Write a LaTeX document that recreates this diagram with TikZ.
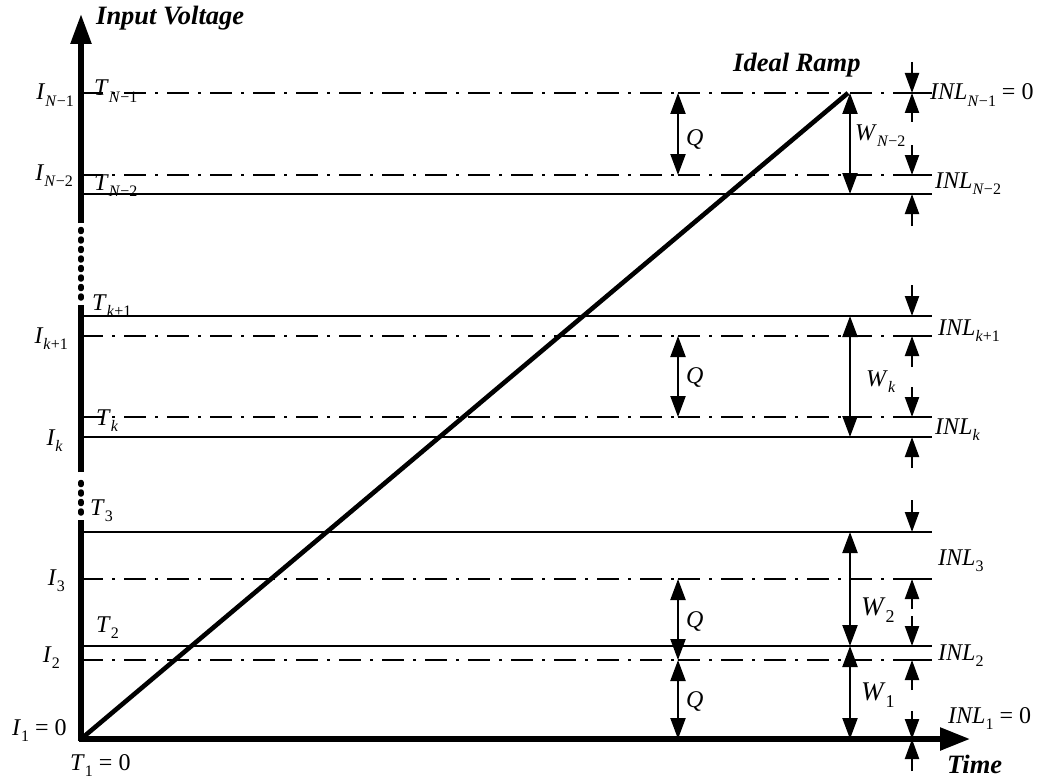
\documentclass[tikz,border=0pt]{standalone}
\usepackage{fontspec}
\setmainfont{Liberation Serif}
\usetikzlibrary{arrows.meta}
\newcommand\lbl[2]{\textit{#1}\raisebox{-6.5pt}{\fontsize{16}{16}\selectfont #2}}
\newcommand\lblb[2]{\textit{#1}\raisebox{-7pt}{\fontsize{18}{18}\selectfont #2}}
\begin{document}
\begin{tikzpicture}[x=1pt,y=-1pt,
  tline/.style={line width=2.6pt},
  iline/.style={line width=2.8pt, dash pattern=on 22pt off 9pt on 3pt off 9pt},
  ramp/.style={line width=4.6pt},
  axisline/.style={line width=5.5pt},
  axisdot/.style={line width=5.5pt, line cap=round, dash pattern=on 2pt off 7.5pt},
  dimarrow/.style={line width=2.2pt, {Triangle[length=21pt,width=15pt]}-{Triangle[length=21pt,width=15pt]}},
  inlarrow/.style={line width=2.2pt, -{Triangle[length=20pt,width=14pt]}},
  lab/.style={inner sep=0pt, font=\fontsize{24}{26}\selectfont},
  biglab/.style={inner sep=0pt, font=\fontsize{27}{29}\selectfont},
  blab/.style={inner sep=0pt, font=\fontsize{26.5}{28}\selectfont\bfseries\itshape}]
\useasboundingbox (0,0) rectangle (1054,781);

% solid T lines
\foreach \yy in {194,316,437,532,646}
  \draw[tline] (81,\yy) -- (932,\yy);
% dash-dot I lines
\foreach \yy in {93,175,336,417,579,660}{
  \draw[iline] (81,\yy) -- (678,\yy);
  \draw[iline] (678,\yy) -- (912,\yy);
  \draw[tline] (912,\yy) -- (932,\yy);
}

% ramp
\coordinate (O) at (81,739);
\coordinate (R) at (848,93);
\draw[ramp] (O) -- (R);

% axes
\draw[axisline] (81,741) -- (81,520);
\draw[axisdot] (81,513) -- (81,476);
\draw[axisline] (81,472) -- (81,305);
\draw[axisdot] (81,298) -- (81,228);
\draw[axisline,-{Triangle[length=30pt,width=20pt]}] (81,223) -- (81,14);
\draw[axisline,-{Triangle[length=30pt,width=22pt]}] (79,739) -- (970,739);

% Q arrows
\draw[dimarrow] (678,93) -- (678,175);
\draw[dimarrow] (678,336) -- (678,417);
\draw[dimarrow] (678,579) -- (678,660);
\draw[dimarrow] (678,660) -- (678,739);
% W arrows
\draw[dimarrow] (850,93) -- (850,194);
\draw[dimarrow] (850,316) -- (850,437);
\draw[dimarrow] (850,532) -- (850,646);
\draw[dimarrow] (850,646) -- (850,739);
% INL arrows
\draw[inlarrow] (912,62) -- (912,93);
\draw[inlarrow] (912,122) -- (912,93);
\draw[inlarrow] (912,145) -- (912,175);
\draw[inlarrow] (912,226) -- (912,194);
\draw[inlarrow] (912,285) -- (912,316);
\draw[inlarrow] (912,367) -- (912,336);
\draw[inlarrow] (912,387) -- (912,417);
\draw[inlarrow] (912,468) -- (912,437);
\draw[inlarrow] (912,500) -- (912,532);
\draw[inlarrow] (912,609) -- (912,579);
\draw[inlarrow] (912,616) -- (912,646);
\draw[inlarrow] (912,690) -- (912,660);
\draw[inlarrow] (912,711) -- (912,739);
\draw[inlarrow] (912,771) -- (912,739);

% bold labels
\node[blab, anchor=base west] (yl) at (96,25) {Input Voltage};
\node[blab, anchor=base west] (rl) at (733,72) {Ideal Ramp};
\node[blab, anchor=base west] (xl) at (947,773) {Time};

% left I labels
\node[lab, anchor=base east] (iN1) at (74,100) {\lbl{I}{\textit{N}−1}};
\node[lab, anchor=base east] (iN2) at (73,180) {\lbl{I}{\textit{N}−2}};
\node[lab, anchor=base east] (ik1) at (68,343) {\lbl{I}{\textit{k}+1}};
\node[lab, anchor=base east] (ik) at (63,445) {\lbl{I}{\textit{k}}};
\node[lab, anchor=base east] (i3) at (65,585) {\lbl{I}{3}};
\node[lab, anchor=base east] (i2) at (60,662) {\lbl{I}{2}};
\node[lab, anchor=base west] (i1) at (12,735) {\lbl{I}{1} = 0};

% T labels
\node[lab, anchor=base west] (tN1) at (94,96) {\lbl{T}{\textit{N}−1}};
\node[lab, anchor=base west] (tN2) at (94,190) {\lbl{T}{\textit{N}−2}};
\node[lab, anchor=base west] (tk1) at (92,310) {\lbl{T}{\textit{k}+1}};
\node[lab, anchor=base west] (tk) at (96,425) {\lbl{T}{\textit{k}}};
\node[lab, anchor=base west] (t3) at (90,515) {\lbl{T}{3}};
\node[lab, anchor=base west] (t2) at (96,632) {\lbl{T}{2}};
\node[lab, anchor=base west] (t1) at (70,770) {\lbl{T}{1} = 0};

% Q labels
\node[lab, anchor=base west] (q1) at (686,145) {\textit{Q}};
\node[lab, anchor=base west] (q2) at (686,383) {\textit{Q}};
\node[lab, anchor=base west] (q3) at (686,627) {\textit{Q}};
\node[lab, anchor=base west] (q4) at (686,707) {\textit{Q}};

% W labels
\node[lab, anchor=base west] (wN2) at (855,140) {\lbl{W}{\textit{N}−2}};
\node[lab, anchor=base west] (wk) at (866,386) {\lbl{W}{\textit{k}}};
\node[biglab, anchor=base west] (w2) at (861,615) {\lblb{W}{2}};
\node[biglab, anchor=base west] (w1) at (861,700) {\lblb{W}{1}};

% INL labels
\node[lab, anchor=base west] (lN1) at (930,100) {\lbl{INL}{\textit{N}−1} = 0};
\node[lab, anchor=base west] (lN2) at (935,188) {\lbl{INL}{\textit{N}−2}};
\node[lab, anchor=base west] (lk1) at (938,335) {\lbl{INL}{\textit{k}+1}};
\node[lab, anchor=base west] (lk) at (935,434) {\lbl{INL}{\textit{k}}};
\node[lab, anchor=base west] (l3) at (938,565) {\lbl{INL}{3}};
\node[lab, anchor=base west] (l2) at (938,660) {\lbl{INL}{2}};
\node[lab, anchor=base west] (l1) at (948,723) {\lbl{INL}{1} = 0};
\end{tikzpicture}
\end{document}
